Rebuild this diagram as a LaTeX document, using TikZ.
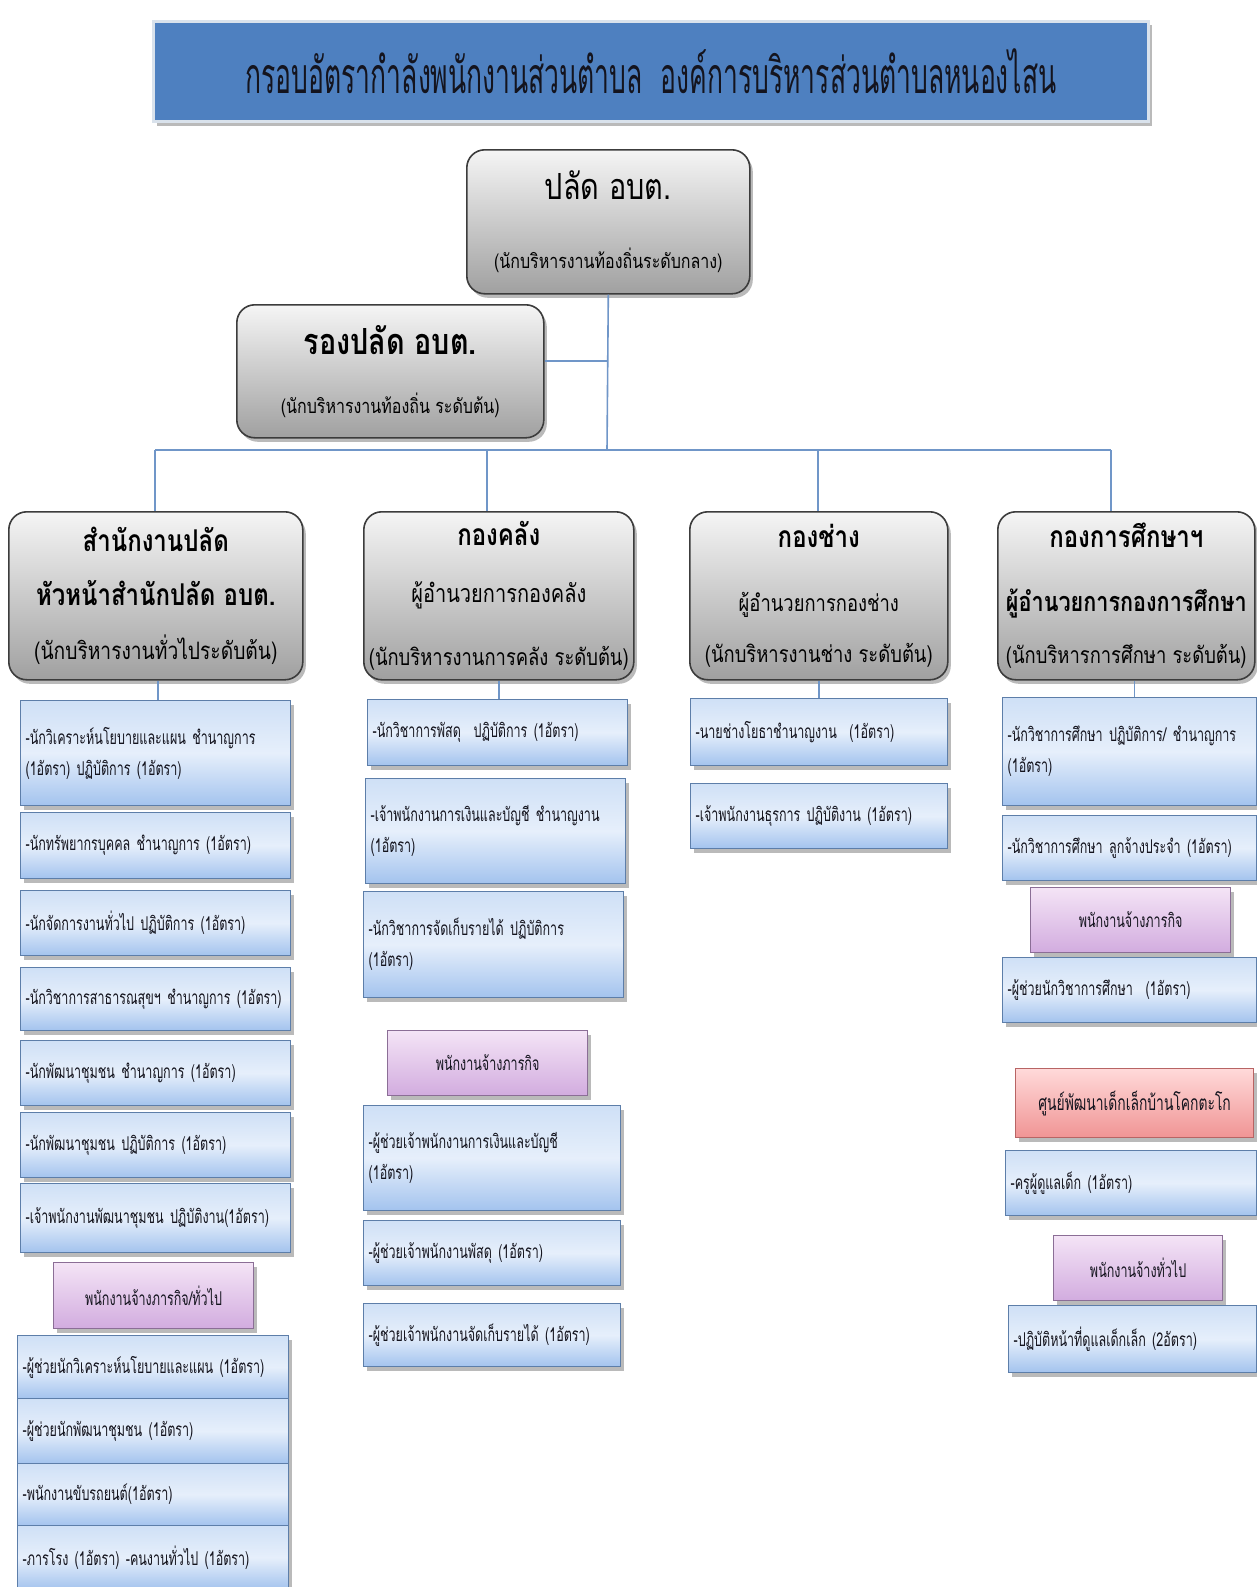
\documentclass[tikz,border=0pt]{standalone}
\usepackage{fontspec}
\usetikzlibrary{shadows,calc}
\newfontfamily\thai[Script=Thai,FakeStretch=0.8]{Loma}
\newfontfamily\thaiI[Script=Thai,FakeStretch=0.66]{Loma}
\newfontfamily\thaiT[Script=Thai,FakeStretch=0.53]{Loma}
\newcommand\hdBold[1][30]{\thai\bfseries\fontsize{#1}{#1}\selectfont}
\newcommand\hdReg[1][25]{\thai\mdseries\fontsize{#1}{#1}\selectfont}
\definecolor{conncol}{HTML}{7096C8}
\definecolor{titleblue}{HTML}{4E80C0}
\definecolor{titleframe}{HTML}{D9E2EC}
\definecolor{grayTop}{HTML}{F5F5F5}
\definecolor{grayBot}{HTML}{A0A0A0}
\definecolor{grayEdge}{HTML}{3C3C3C}
\definecolor{itemTop}{HTML}{CFE0F6}
\definecolor{itemMid}{HTML}{E6EFFB}
\definecolor{itemBot}{HTML}{A3C3EE}
\definecolor{itemEdge}{HTML}{5D7EA9}
\definecolor{purTop}{HTML}{F4E4F6}
\definecolor{purBot}{HTML}{D2ACDF}
\definecolor{purEdge}{HTML}{8B6E96}
\definecolor{redTop}{HTML}{FFD9D9}
\definecolor{redBot}{HTML}{F09494}
\definecolor{redEdge}{HTML}{B86464}
\definecolor{txt}{HTML}{14141E}
\tikzset{
  conn/.style={draw=conncol, line width=1.6pt},
  shad/.style={drop shadow={shadow xshift=3pt, shadow yshift=-4pt, opacity=0.45, fill=black!60}},
  titlebar/.style={anchor=north west, fill=titleblue, draw=titleframe, line width=3pt, shad, inner sep=0pt, text=txt, font=\thaiT\fontsize{50}{50}\selectfont},
  graybox/.style={anchor=north west, draw=grayEdge, line width=1.6pt, rounded corners=18pt, top color=grayTop, bottom color=grayBot, shad, inner sep=0pt, align=center, text=black, font=\thai},
  itembox/.style={anchor=north west, draw=itemEdge, line width=1.2pt, top color=itemTop, bottom color=itemBot, middle color=itemMid, shad, inner xsep=5pt, inner ysep=0pt, align=left, text=txt, font=\thaiI\fontsize{19}{31}\selectfont},
  purbox/.style={anchor=north west, draw=purEdge, line width=1.2pt, top color=purTop, bottom color=purBot, shad, inner sep=0pt, align=center, text=txt, font=\thaiI\fontsize{19}{31}\selectfont},
  redbox/.style={anchor=north west, draw=redEdge, line width=1.2pt, top color=redTop, bottom color=redBot, shad, inner sep=0pt, align=center, text=txt, font=\thaiI\fontsize{21}{31}\selectfont}
}
\begin{document}
\begin{tikzpicture}[x=1pt,y=-1pt]
\useasboundingbox (0,0) rectangle (1256,1587);
\fill[white] (0,0) rectangle (1256,1587);

% title
\node[titlebar, minimum width=995, minimum height=100] (title) at (152,20) {กรอบอัตรากำลังพนักงานส่วนตำบล\ \ องค์การบริหารส่วนตำบลหนองไสน};

% top and deputy
\node[graybox, minimum width=283, minimum height=144] (top) at (466,149)
  {\hdReg[36]ปลัด อบต.\\[48pt]\hdReg[20](นักบริหารงานท้องถิ่นระดับกลาง)};
\node[graybox, minimum width=307, minimum height=133] (dep) at (236,304)
  {\hdBold[36]รองปลัด อบต.\\[37pt]\hdReg[20](นักบริหารงานท้องถิ่น ระดับต้น)};

% departments
\node[graybox, minimum width=294, minimum height=168] (d1) at (8,511)
  {\hdBold[30]สำนักงานปลัด\\[28pt]\hdBold[30]หัวหน้าสำนักปลัด อบต.\\[28pt]\hdReg[24](นักบริหารงานทั่วไประดับต้น)};
\node[graybox, minimum width=270, minimum height=168] (d2) at (363,511)
  {\hdBold[30]กองคลัง\\[35pt]\hdReg[25]ผู้อำนวยการกองคลัง\\[37pt]\hdReg[23](นักบริหารงานการคลัง ระดับต้น)};
\node[graybox, minimum width=258, minimum height=168] (d3) at (689,511)
  {\hdBold[30]กองช่าง\\[43pt]\hdReg[23]ผู้อำนวยการกองช่าง\\[25pt]\hdReg[23](นักบริหารงานช่าง ระดับต้น)};
\node[graybox, minimum width=257, minimum height=168] (d4) at (997,511)
  {\hdBold[30]กองการศึกษาฯ\\[40pt]\hdBold[27]ผู้อำนวยการกองการศึกษา\\[26pt]\hdReg[23](นักบริหารการศึกษา ระดับต้น)};

% column 1
\node[itembox, minimum height=105, text width=260] (c1i1) at (20,700) {-นักวิเคราะห์นโยบายและแผน ชำนาญการ\\(1อัตรา) ปฏิบัติการ (1อัตรา)};
\node[itembox, minimum height=66, text width=260] (c1i2) at (20,812) {-นักทรัพยากรบุคคล ชำนาญการ (1อัตรา)};
\node[itembox, minimum height=65, text width=260] (c1i3) at (20,890) {-นักจัดการงานทั่วไป ปฏิบัติการ (1อัตรา)};
\node[itembox, minimum height=63, text width=260] (c1i4) at (20,967) {-นักวิชาการสาธารณสุขฯ ชำนาญการ (1อัตรา)};
\node[itembox, minimum height=65, text width=260] (c1i5) at (20,1040) {-นักพัฒนาชุมชน ชำนาญการ (1อัตรา)};
\node[itembox, minimum height=65, text width=260] (c1i6) at (20,1112) {-นักพัฒนาชุมชน ปฏิบัติการ (1อัตรา)};
\node[itembox, minimum height=69, text width=260] (c1i7) at (20,1183) {-เจ้าพนักงานพัฒนาชุมชน ปฏิบัติงาน(1อัตรา)};
\node[purbox, minimum width=200, minimum height=66] (c1p) at (53,1262) {พนักงานจ้างภารกิจ/ทั่วไป};
\node[itembox, minimum height=63, text width=261] (c1i8) at (17,1335) {-ผู้ช่วยนักวิเคราะห์นโยบายและแผน (1อัตรา)};
\node[itembox, minimum height=65, text width=261] (c1i9) at (17,1398) {-ผู้ช่วยนักพัฒนาชุมชน (1อัตรา)};
\node[itembox, minimum height=62, text width=261] (c1i10) at (17,1463) {-พนักงานขับรถยนต์(1อัตรา)};
\node[itembox, minimum height=64, text width=261] (c1i11) at (17,1525) {-ภารโรง (1อัตรา) -คนงานทั่วไป (1อัตรา)};

% column 2
\node[itembox, minimum height=66, text width=250] (c2i1) at (367,699) {-นักวิชาการพัสดุ\ \ ปฏิบัติการ (1อัตรา)};
\node[itembox, minimum height=105, text width=250] (c2i2) at (365,778) {-เจ้าพนักงานการเงินและบัญชี ชำนาญงาน\\(1อัตรา)};
\node[itembox, minimum height=106, text width=250] (c2i3) at (363,891) {-นักวิชาการจัดเก็บรายได้ ปฏิบัติการ\\(1อัตรา)};
\node[purbox, minimum width=200, minimum height=65] (c2p) at (387,1030) {พนักงานจ้างภารกิจ};
\node[itembox, minimum height=105, text width=247] (c2i4) at (363,1105) {-ผู้ช่วยเจ้าพนักงานการเงินและบัญชี\\(1อัตรา)};
\node[itembox, minimum height=65, text width=247] (c2i5) at (363,1220) {-ผู้ช่วยเจ้าพนักงานพัสดุ (1อัตรา)};
\node[itembox, minimum height=63, text width=247] (c2i6) at (363,1303) {-ผู้ช่วยเจ้าพนักงานจัดเก็บรายได้ (1อัตรา)};

% column 3
\node[itembox, minimum height=67, text width=247] (c3i1) at (690,698) {-นายช่างโยธาชำนาญงาน\ \ (1อัตรา)};
\node[itembox, minimum height=65, text width=247] (c3i2) at (690,783) {-เจ้าพนักงานธุรการ ปฏิบัติงาน (1อัตรา)};

% column 4
\node[itembox, minimum height=108, text width=244] (c4i1) at (1002,697) {-นักวิชาการศึกษา ปฏิบัติการ/ ชำนาญการ\\(1อัตรา)};
\node[itembox, minimum height=65, text width=244] (c4i2) at (1002,815) {-นักวิชาการศึกษา ลูกจ้างประจำ (1อัตรา)};
\node[purbox, minimum width=200, minimum height=65] (c4p) at (1030,887) {พนักงานจ้างภารกิจ};
\node[itembox, minimum height=65, text width=244] (c4i3) at (1002,957) {-ผู้ช่วยนักวิชาการศึกษา\ \ (1อัตรา)};
\node[redbox, minimum width=238, minimum height=69] (c4r) at (1015,1068) {ศูนย์พัฒนาเด็กเล็กบ้านโคกตะโก};
\node[itembox, minimum height=65, text width=241] (c4i4) at (1005,1150) {-ครูผู้ดูแลเด็ก (1อัตรา)};
\node[purbox, minimum width=169, minimum height=65] (c4p2) at (1053,1235) {พนักงานจ้างทั่วไป};
\node[itembox, minimum height=67, text width=238] (c4i5) at (1008,1305) {-ปฏิบัติหน้าที่ดูแลเด็กเล็ก (2อัตรา)};

% connectors
\coordinate (bus) at (607,450);
\coordinate (depj) at (607,361);
\coordinate (b1) at (155,450);
\coordinate (b2) at (487,450);
\coordinate (b3) at (818,450);
\coordinate (b4) at (1111,450);
\draw[conn] (top.south) -- (bus);
\draw[conn] (depj -| dep.east) -- (depj);
\draw[conn] (b1) -- (b4);
\draw[conn] (b1) -- (b1 |- d1.north);
\draw[conn] (b2) -- (b2 |- d2.north);
\draw[conn] (b3) -- (b3 |- d3.north);
\draw[conn] (b4) -- (b4 |- d4.north);
\draw[conn] ([xshift=2pt]d1.south) -- ([xshift=2pt]d1.south |- c1i1.north);
\draw[conn] (d2.south) -- (d2.south |- c2i1.north);
\draw[conn] (d3.south) -- (d3.south |- c3i1.north);
\draw[conn] ([xshift=8pt]d4.south) -- ([xshift=8pt]d4.south |- c4i1.north);
\end{tikzpicture}
\end{document}
